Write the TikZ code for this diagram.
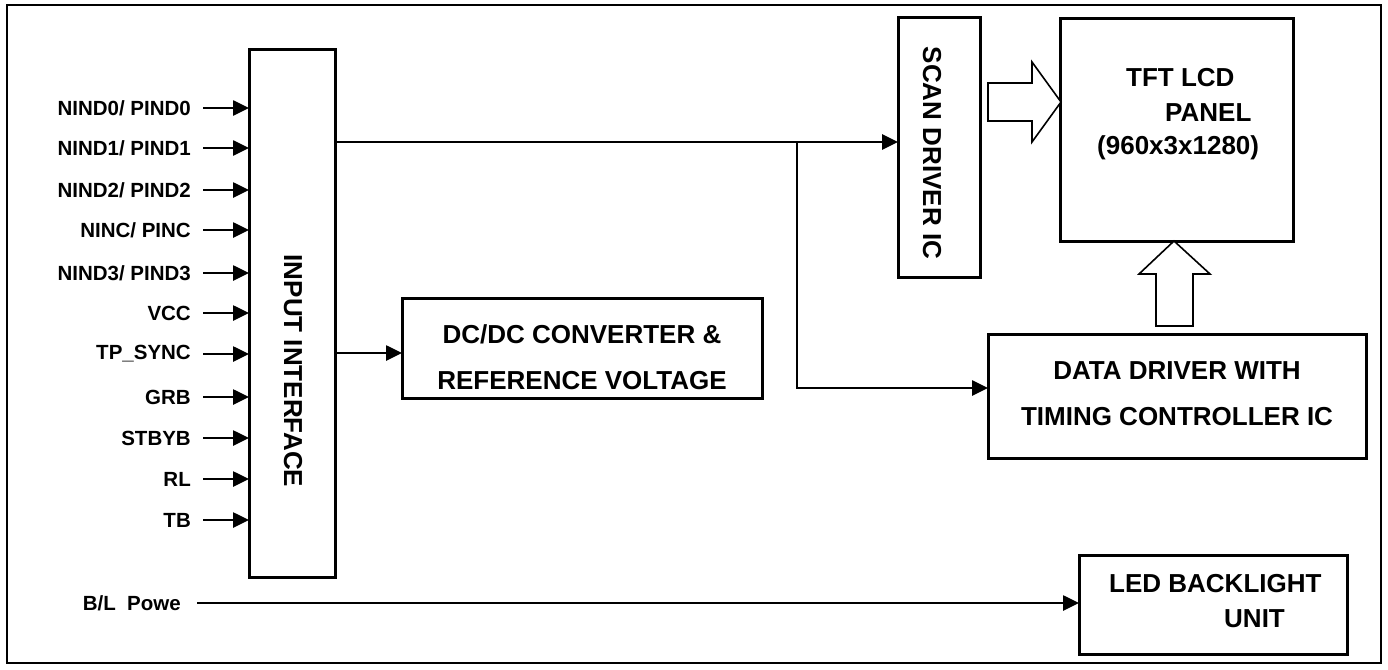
\documentclass[tikz,border=0pt]{standalone}
\usepackage{fontspec}
\setmainfont{Liberation Sans}
\usetikzlibrary{arrows.meta}
\begin{document}
\begin{tikzpicture}[x=1pt,y=-1pt,
  blk/.style={draw, line width=3pt, fill=white},
  lbl/.style={font=\fontsize{20.5}{24}\selectfont\bfseries, anchor=east, inner sep=0pt},
  btxt/.style={font=\fontsize{26}{30}\selectfont\bfseries, inner sep=0pt},
  sig/.style={line width=2.6pt, -{Triangle[length=16pt,width=15pt]}},
  hollow/.style={draw, line width=1.6pt, fill=white, line join=miter}]
\useasboundingbox (0,0) rectangle (1388,669);
\draw[line width=2.2pt] (7,5) rectangle (1381,663);

% boxes
\draw[blk] (249,50) rectangle (335,577);
\node[btxt, rotate=-90] (inptxt) at (293,371) {INPUT INTERFACE};

\draw[blk] (898,18) rectangle (980,277);
\node[btxt, rotate=-90] (scantxt) at (932,153) {SCAN DRIVER IC};

\draw[blk] (1060,19) rectangle (1293,241);
\node[btxt, anchor=west] (tft1) at (1126,78) {TFT LCD};
\node[btxt, anchor=west] (tft2) at (1165,113) {PANEL};
\node[btxt, anchor=west] (tft3) at (1097,148) {(960x3x1280)};

\draw[blk] (402,298) rectangle (762,398);
\node[btxt] (dc1) at (582,334) {DC/DC CONVERTER \&};
\node[btxt] (dc2) at (582,381) {REFERENCE VOLTAGE};

\draw[blk] (988,334) rectangle (1366,458);
\node[btxt] (dd1) at (1177,371) {DATA DRIVER WITH};
\node[btxt] (dd2) at (1177,417) {TIMING CONTROLLER IC};

\draw[blk] (1079,555) rectangle (1347,654);
\node[btxt, anchor=west] (led1) at (1109,584) {LED BACKLIGHT};
\node[btxt, anchor=west] (led2) at (1224,619) {UNIT};

% input labels and arrows
\foreach \y/\t in {108/{NIND0/ PIND0}, 148/{NIND1/ PIND1}, 190/{NIND2/ PIND2}, 230/{NINC/ PINC}, 273/{NIND3/ PIND3}, 313/{VCC}, 354/{TP\_SYNC}, 397/{GRB}, 438/{STBYB}, 479/{RL}, 520/{TB}}{
  \node[lbl] at (191,\y) {\t};
  \draw[sig] (203,\y) -- (249,\y);
}

% B/L power
\node[lbl] (blp) at (181,603) {B/L\ \ Powe};
\coordinate (bls) at (197,603);
\draw[sig] (bls) -- (1079,603);

% main bus
\coordinate (bus0) at (335,142);
\coordinate (br) at (797,142);
\draw[sig] (bus0) -- (898,142);
\draw[sig] (br) -- (797,388) -- (988,388);
\draw[sig] (337,353) -- (402,353);

% hollow arrows
\draw[hollow] (988,83) -- (1032,83) -- (1032,62) -- (1061,102) -- (1032,142) -- (1032,121) -- (988,121) -- cycle;
\draw[hollow] (1156,326) -- (1156,274) -- (1139,274) -- (1174,241) -- (1210,274) -- (1193,274) -- (1193,326) -- cycle;
\end{tikzpicture}
\end{document}
